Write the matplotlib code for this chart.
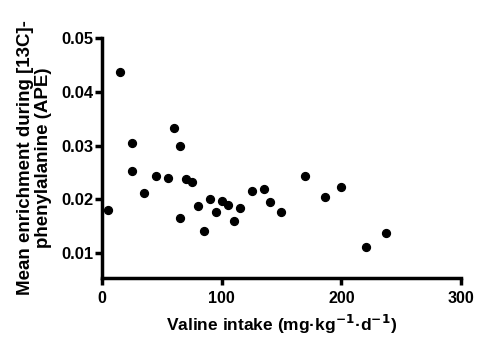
import matplotlib
matplotlib.use("Agg")
import matplotlib.pyplot as plt
import numpy as np

plt.rcParams['font.family'] = ['Liberation Sans', 'DejaVu Sans']
plt.rcParams['font.weight'] = 'bold'
plt.rcParams['mathtext.default'] = 'bf'

# valine intake (mg/kg/d)
intake = [5, 15, 25, 25, 35, 45, 55, 60, 65, 65, 70, 75, 80, 85, 90,
          95, 100, 105, 110, 115, 125, 135, 140, 150, 170, 186, 200, 221, 237]
# mean enrichment (APE)
enrich = [0.0181, 0.0437, 0.0305, 0.0253, 0.0212, 0.0244, 0.0239, 0.0333,
          0.0299, 0.0166, 0.0238, 0.0233, 0.0187, 0.0142, 0.0200, 0.0176,
          0.0198, 0.0190, 0.0160, 0.0184, 0.0215, 0.0219, 0.0195, 0.0176,
          0.0243, 0.0204, 0.0224, 0.0111, 0.0137]

xticks = [0, 100, 200, 300]
yticks = [0.01, 0.02, 0.03, 0.04, 0.05]

fig = plt.figure(figsize=(4.78, 3.38), dpi=100)
ax = fig.add_axes([0.2134, 0.1775, 0.751, 0.7101])

ax.scatter(intake, enrich, s=32, color='black', zorder=3, clip_on=False)

ax.set_xlim(0, 300)
ax.set_ylim(0.0054, 0.05)
ax.set_xticks(xticks)
ax.set_yticks(yticks)
ax.set_xticklabels([str(t) for t in xticks])
ax.set_yticklabels(["%.2f" % t for t in yticks])

for s in ['top', 'right']:
    ax.spines[s].set_visible(False)
for s in ['left', 'bottom']:
    ax.spines[s].set_linewidth(2.5)
ax.tick_params(width=2.5, length=5, direction='out')
ax.tick_params(axis='y', labelsize=12, pad=1)
ax.tick_params(axis='x', labelsize=11.5, pad=4)

ax.set_xlabel("Valine intake (mg·kg$^{-1}$·d$^{-1}$)", fontsize=12.5,
              fontweight='bold', labelpad=5)
ax.set_ylabel("Mean enrichment during [13C]-\nphenylalanine (APE)",
              fontsize=13.5, fontweight='bold', labelpad=7, linespacing=1.05)

fig.savefig("out.png", dpi=100)
